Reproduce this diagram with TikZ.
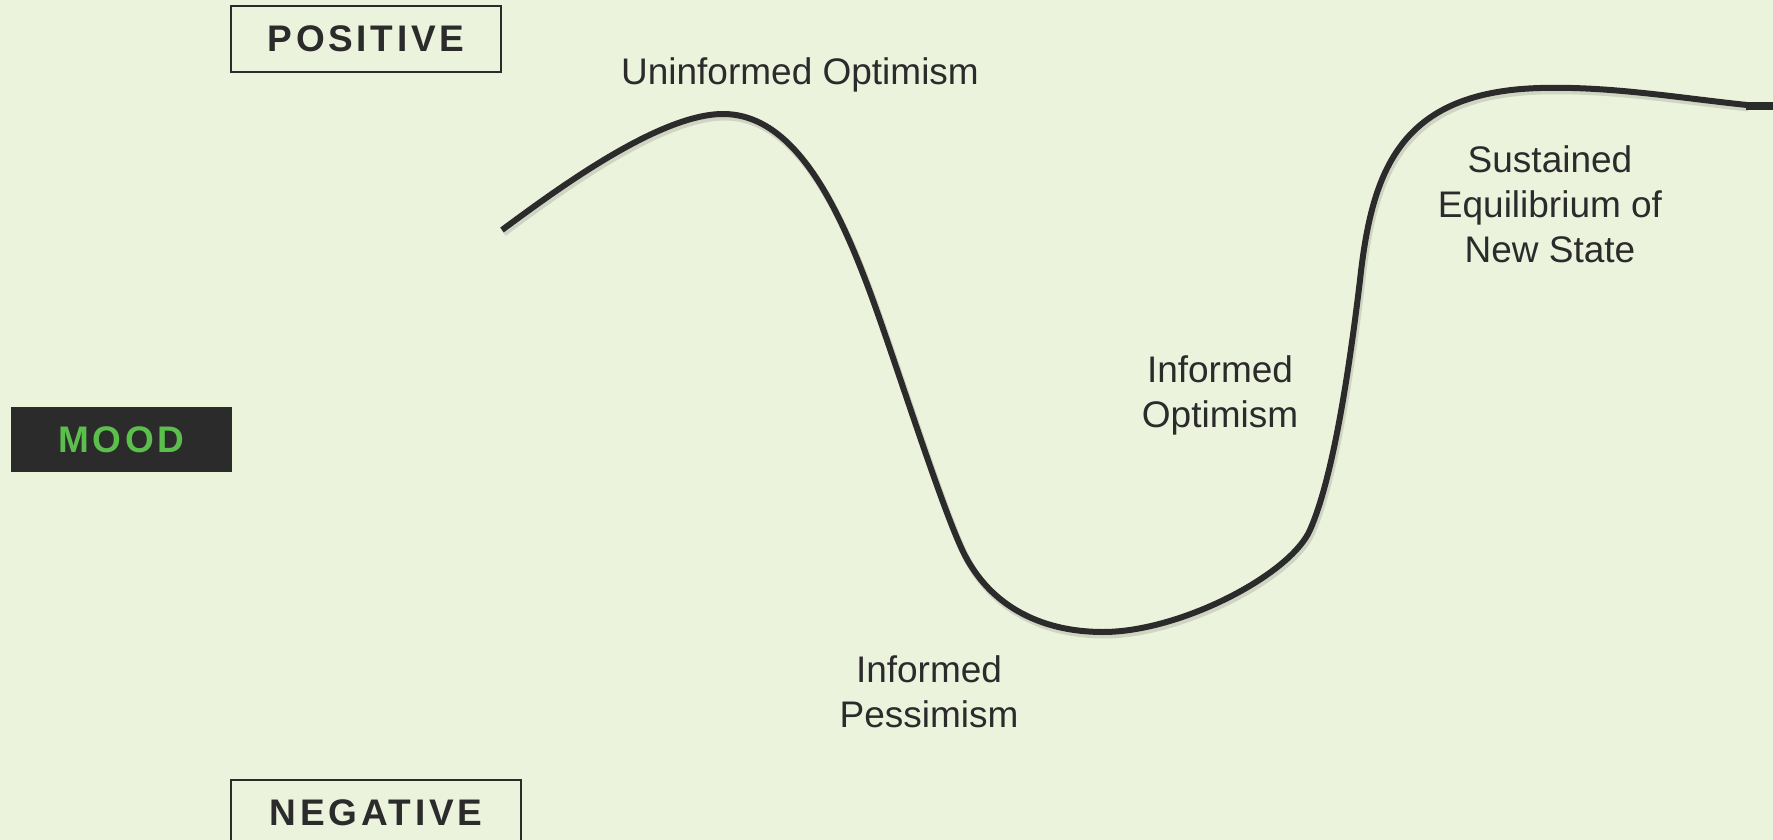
\documentclass[tikz,border=0pt]{standalone}
\usepackage{fontspec}
\setmainfont{Liberation Sans}
\newfontfamily\spacedfont[LetterSpace=10]{Liberation Sans}
\definecolor{bgcol}{RGB}{235,243,221}
\definecolor{inkcol}{RGB}{43,43,43}
\definecolor{moodgreen}{RGB}{92,190,76}
\tikzset{
  axisbox/.style={draw=inkcol, line width=1pt, inner sep=0pt, minimum height=33pt,
    text=inkcol, font=\spacedfont\bfseries\fontsize{18.5}{22}\selectfont},
  moodbox/.style={fill=inkcol, inner sep=0pt, minimum width=110.5pt, minimum height=32.5pt,
    text=moodgreen, font=\spacedfont\bfseries\fontsize{18.5}{22}\selectfont},
  phase/.style={align=center, inner sep=0pt, text=inkcol, font=\fontsize{18.5}{22.5}\selectfont},
  moodline/.style={draw=inkcol, line width=3pt,
    preaction={draw=black, opacity=0.12, line width=3.5pt, transform canvas={shift={(0.8pt,-1.5pt)}}}}
}

\begin{document}
\begin{tikzpicture}[x=0.5pt,y=-0.5pt]
  \useasboundingbox[fill=bgcol] (0,0) rectangle (1773,840);
  \clip (0,0) rectangle (1773,840);

  % axis labels
  \node[axisbox, minimum width=135pt] (pos) at (366,39) {POSITIVE};
  \node[moodbox] (mood) at (121.5,439.5) {MOOD};
  \node[axisbox, minimum width=145pt] (neg) at (376,813) {NEGATIVE};

  % the mood curve
  \draw[moodline] (502,230) .. controls (560,187) and (660,114) .. (723,114)
    .. controls (800,114) and (845,220) .. (880,320)
    .. controls (904.5,390) and (940,500) .. (960,545)
    .. controls (986,605) and (1040,632) .. (1103,632)
    .. controls (1180,632) and (1290,575) .. (1310,530)
    .. controls (1332,480) and (1348,380) .. (1360,280)
    .. controls (1372,170) and (1400,92) .. (1540,88)
    .. controls (1610,86) and (1680,98) .. (1747,105);
  \draw[draw=inkcol, line width=4pt] (1746,106) -- (1773,106);

  % phases
  \node[phase, anchor=base] (uninf) at (800,85) {Uninformed Optimism};
  \node[phase, anchor=north] (infpess) at (929,655) {Informed\\Pessimism};
  \node[phase, anchor=north] (infopt) at (1220,355) {Informed\\Optimism};
  \node[phase, anchor=north] (sustain) at (1550,145) {Sustained\\Equilibrium of\\New State};
\end{tikzpicture}
\end{document}
